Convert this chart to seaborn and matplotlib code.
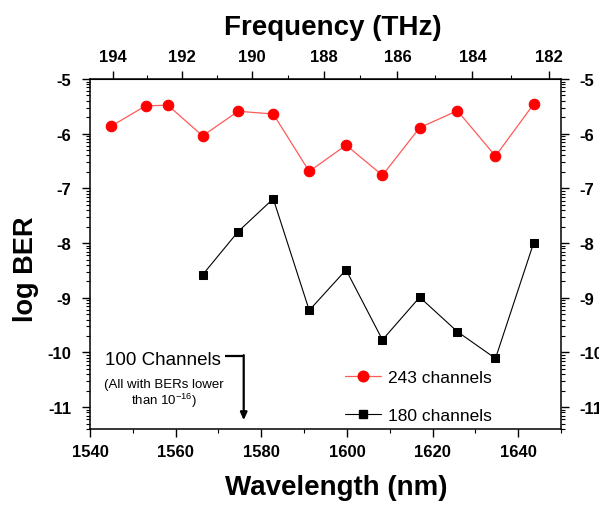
import numpy as np
import pandas as pd
import matplotlib
matplotlib.use("Agg")
import matplotlib.pyplot as plt
from matplotlib.lines import Line2D
from matplotlib.ticker import FixedLocator, MultipleLocator
import seaborn as sns

# ---- data -------------------------------------------------------------
wl_243 = [1545.0, 1553.0, 1558.2, 1566.3, 1574.6, 1582.8, 1591.2,
          1599.8, 1608.3, 1617.0, 1625.8, 1634.7, 1643.6]
ber_243 = [-5.86, -5.49, -5.48, -6.04, -5.59, -5.64, -6.69,
           -6.21, -6.76, -5.89, -5.58, -6.41, -5.46]

wl_180 = [1566.3, 1574.6, 1582.8, 1591.2, 1599.8, 1608.3, 1617.0,
          1625.8, 1634.7, 1643.6]
ber_180 = [-8.58, -7.79, -7.19, -9.23, -8.49, -9.77, -8.99,
           -9.62, -10.11, -8.00]

wl_ticks = [1540, 1560, 1580, 1600, 1620, 1640]
freq_ticks = [194, 192, 190, 188, 186, 184, 182]
ber_ticks = [-11, -10, -9, -8, -7, -6, -5]

labels = ["243 channels", "180 channels"]

C_NM_THZ = 299792.458  # speed of light in nm*THz

# ---- style ------------------------------------------------------------
sns.set_style("ticks")
plt.rcParams["font.family"] = ["Liberation Sans", "DejaVu Sans"]
plt.rcParams["axes.unicode_minus"] = False
plt.rcParams["mathtext.default"] = "regular"
for key in ["text.color", "axes.labelcolor", "xtick.color", "ytick.color",
            "xtick.labelcolor", "ytick.labelcolor", "axes.edgecolor"]:
    plt.rcParams[key] = "black"

df243 = pd.DataFrame({"wl": wl_243, "ber": ber_243})
df180 = pd.DataFrame({"wl": wl_180, "ber": ber_180})

fig = plt.figure(figsize=(5.99, 5.06), dpi=100)
ax = fig.add_axes([90 / 599, 76 / 506, 471 / 599, 350 / 506])

red_line = "#ff5a5a"
sns.lineplot(data=df243, x="wl", y="ber", ax=ax, color=red_line,
             linewidth=0.9, marker="o", markersize=7.6,
             markerfacecolor="#ff0000", markeredgecolor="#ff0000",
             sort=False)
sns.lineplot(data=df180, x="wl", y="ber", ax=ax, color="black",
             linewidth=0.8, marker="s", markersize=6,
             markerfacecolor="black", markeredgecolor="black",
             sort=False)

ax.set_xlim(1540, 1650)
ax.set_ylim(-11.4, -5)

# wavelength axis
ax.xaxis.set_major_locator(FixedLocator(wl_ticks))
ax.xaxis.set_minor_locator(MultipleLocator(10))

# log-style minor ticks inside every decade of BER
minor_y = [m + np.log10(k) for m in range(-12, -5) for k in range(2, 10)]
ax.yaxis.set_major_locator(FixedLocator(ber_ticks))
ax.yaxis.set_minor_locator(FixedLocator(minor_y))

ax.tick_params(axis="both", which="major", direction="out", length=5.5,
               width=1.0, labelsize=12, color="black", labelcolor="black")
ax.tick_params(axis="both", which="minor", direction="out", length=3,
               width=0.8, color="black")
ax.tick_params(axis="y", which="both", right=True, labelright=True)
ax.tick_params(axis="y", which="major", pad=8)
ax.tick_params(axis="x", which="major", pad=5)
for lab in ax.get_xticklabels() + ax.get_yticklabels():
    lab.set_fontweight("bold")
for t in ax.yaxis.get_major_ticks():
    t.label1.set_fontweight("bold")
    t.label2.set_fontweight("bold")

for side in ["left", "right", "top", "bottom"]:
    ax.spines[side].set_visible(True)
    ax.spines[side].set_linewidth(1.1)
    ax.spines[side].set_color("black")

ax.set_xlabel("Wavelength (nm)", fontsize=20, fontweight="bold",
              color="black")
ax.xaxis.set_label_coords(0.522, -0.128)
ax.set_ylabel("log BER", fontsize=19.5, fontweight="bold", color="black")
ax.yaxis.set_label_coords(-0.108, 0.46)


# frequency axis on top
def wl_to_f(x):
    x = np.asarray(x, dtype=float)
    with np.errstate(divide="ignore", invalid="ignore"):
        return C_NM_THZ / x


top = ax.secondary_xaxis("top", functions=(wl_to_f, wl_to_f))
top.xaxis.set_major_locator(FixedLocator(freq_ticks))
top.xaxis.set_minor_locator(FixedLocator([193, 191, 189, 187, 185, 183]))
top.tick_params(which="major", direction="out", length=5.5, width=1.0,
                labelsize=12, pad=5, color="black", labelcolor="black")
top.tick_params(which="minor", direction="out", length=3, width=0.8,
                color="black")
for lab in top.get_xticklabels():
    lab.set_fontweight("bold")
top.set_xlabel("Frequency (THz)", fontsize=20, fontweight="bold",
               color="black")
top.xaxis.set_label_coords(0.516, 1.129, transform=ax.transAxes)

# annotation for the 100-channel case
ax.text(1543.6, -10.21, "100 Channels", fontsize=13.5, ha="left",
        va="baseline", color="black")
ax.text(1557.3, -10.64, "(All with BERs lower", fontsize=9.5,
        ha="center", va="baseline", color="black")
ax.text(1557.3, -10.95, "than 10$^{-16}$)", fontsize=9.5,
        ha="center", va="baseline", color="black")
ax.plot([1571.6, 1575.9], [-10.06, -10.06], color="black", lw=1.6,
        solid_capstyle="butt")
ax.annotate("", xy=(1575.9, -11.24), xytext=(1575.9, -10.05),
            arrowprops=dict(arrowstyle="-|>,head_length=0.45,head_width=0.2",
                            color="black", lw=1.6, shrinkA=0, shrinkB=0))

# legend
handles = [
    Line2D([], [], color=red_line, lw=0.9, marker="o", markersize=7.6,
           markerfacecolor="#ff0000", markeredgecolor="#ff0000"),
    Line2D([], [], color="black", lw=0.8, marker="s", markersize=6,
           markerfacecolor="black", markeredgecolor="black"),
]
leg = ax.legend(handles, labels, frameon=False, fontsize=12.5,
                loc="center left",
                bbox_to_anchor=(345 / 599, (506 - 397.5) / 506),
                bbox_transform=fig.transFigure, borderpad=0, borderaxespad=0,
                handlelength=2.1, handletextpad=0.4, labelspacing=1.35)
for txt in leg.get_texts():
    txt.set_color("black")

fig.savefig("out.png", dpi=100, facecolor="white")
